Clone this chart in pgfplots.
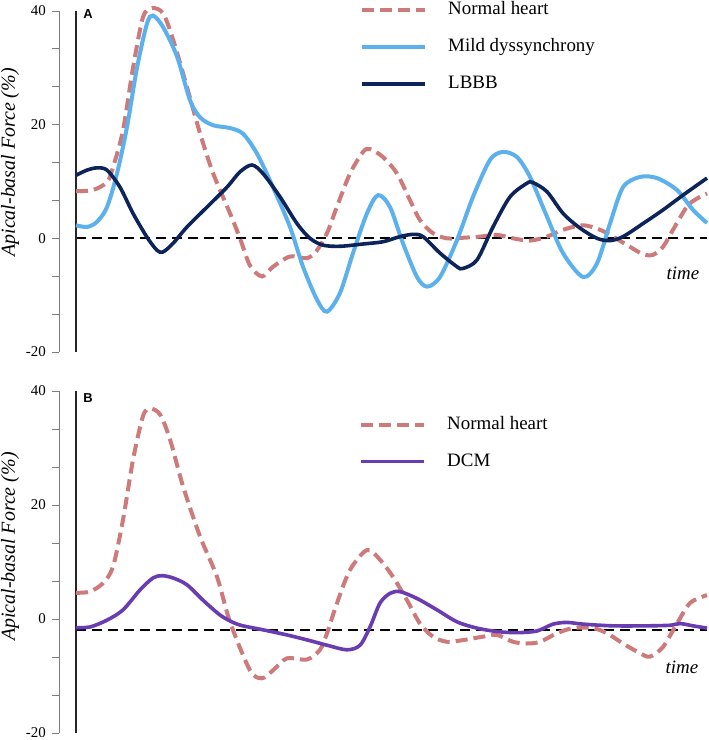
\documentclass[border=0pt]{standalone}
\usepackage{pgfplots}
\pgfplotsset{compat=1.18}
\usepackage{fontspec}
\setmainfont{Liberation Serif}
\newfontfamily\sansfont{Liberation Sans}

\definecolor{normalc}{RGB}{204,122,122}
\definecolor{mildc}{RGB}{92,177,236}
\definecolor{lbbbc}{RGB}{12,36,90}
\definecolor{dcmc}{RGB}{105,60,178}
\definecolor{axgray}{RGB}{125,125,125}

\pgfplotsset{
  panel/.style={
    scale only axis, width=648bp,
    xmin=59, xmax=707, ymin=-20, ymax=40,
    axis line style={draw=none},
    xtick=\empty, ytick pos=left,
    ytick={-20,0,20,40}, minor y tick num=2,
    tick align=outside, major tick length=7bp, minor tick length=7bp,
    tick style={draw=axgray, line width=0.8bp},
    yticklabel style={font=\fontsize{15}{18}\selectfont, text=black, anchor=east, inner sep=0pt, xshift=-6bp},
    /pgf/number format/assume math mode=true,
    clip=false,
    legend cell align=left,
    legend style={draw=none, fill=none, font=\fontsize{19}{22}\selectfont,
      inner sep=0pt, row sep=18bp, column sep=21bp,
      nodes={text height=14bp, text depth=5bp, inner sep=0pt}},
    every axis y label/.style={rotate=90, anchor=center,
      font=\fontsize{20}{24}\selectfont\itshape},
    ylabel={Apical-basal Force (\%)},
  },
  nh/.style={normalc, line width=4bp, dash pattern=on 12bp off 6bp},
  zl/.style={black, line width=2bp, dash pattern=on 10bp off 6bp},
}

\begin{document}
\begin{tikzpicture}
\path[use as bounding box] (0,0) rectangle (709bp,740bp);

% ---------------- Panel A ----------------
\begin{axis}[panel, at={(59bp,388bp)}, anchor=south west, height=341bp,
  every axis y label/.append style={at={(axis description cs:-0.0756,0.556)}},
  legend style={at={(axis description cs:0.4645,1.032)}, anchor=north west},
  legend image code/.code={\draw[#1] (0bp,0bp) -- (63bp,0bp);}]
\draw[axgray, line width=0.8bp] (axis cs:59,-20) -- (axis cs:59,40);
\addplot[zl, forget plot] coordinates {(76,0) (707,0)};
\draw[black!85, line width=1.8bp] (axis cs:76,-20) -- (axis cs:76,40);
\addplot[nh, smooth] coordinates {
(76,8.3)(93,8.5)(107,9.9)(113,12.5)(123,19)(133,30)(143,38.9)(152,40.5)(163,39.6)(173,35)(187,26.6)(200,18.5)(213,11.5)(230,4.4)(240,0)(250,-4.8)(262,-6.7)(273,-5.0)(290,-3.2)(307,-3.5)(317,-2.1)(327,0.9)(337,5.6)(350,11.4)(363,15.2)(370,15.7)(383,14.3)(397,11.4)(410,6.7)(420,3.2)(433,0.9)(447,0)(463,0.1)(480,0.3)(497,0.6)(513,0)(530,-0.4)(547,0.3)(563,1.5)(583,2.3)(600,1.5)(613,0.3)(630,-1.5)(643,-2.8)(653,-2.9)(663,-1.5)(673,1.5)(687,5.6)(697,7.0)(707,7.9)};
\addlegendentry{Normal heart}
\addplot[mildc, line width=4bp, smooth] coordinates {
(76,2.3)(87,2.0)(97,2.9)(107,5.5)(117,11.4)(127,19.6)(137,30)(147,37.8)(153,39.2)(163,37.2)(177,32)(190,24.3)(200,21.3)(213,19.9)(230,19.4)(243,18.4)(257,14.9)(273,9)(290,2)(303,-5)(317,-10.8)(327,-12.9)(340,-9.6)(353,-2.6)(367,4.4)(378,7.6)(390,5.5)(403,-0.9)(417,-6.8)(427,-8.5)(440,-6.8)(457,-0.3)(473,7.3)(490,13.8)(503,15.2)(517,14.3)(530,10.8)(547,3.8)(563,-2.6)(583,-6.8)(597,-4.4)(610,2.6)(623,9)(640,10.8)(657,10.6)(677,8.5)(693,5)(707,2.7)};
\addlegendentry{Mild dyssynchrony}
\addplot[lbbbc, line width=3.6bp, smooth] coordinates {
(76,11.1)(87,12)(97,12.4)(107,12)(120,9)(133,4.4)(147,0.2)(157,-2.1)(163,-2.4)(173,-0.9)(187,2)(207,5.5)(227,9)(240,11.7)(252,12.9)(263,11.4)(280,7.3)(297,2.6)(310,0)(323,-1.2)(340,-1.4)(363,-1)(383,-0.6)(400,0.3)(413,0.7)(423,0.3)(440,-2.6)(457,-5)(463,-5.3)(477,-3.8)(493,2)(510,7.3)(527,9.7)(533,9.8)(547,8.2)(563,4.4)(580,1.8)(597,0)(610,-0.4)(623,0.3)(643,2.6)(663,5)(683,7.6)(707,10.6)};
\addlegendentry{LBBB}
\node[font=\fontsize{19}{22}\selectfont\itshape] at (axis cs:683,-6.1) {time};
\node[font=\fontsize{13}{15}\sansfont\bfseries] at (axis cs:88,39.4) {A};
\end{axis}

% ---------------- Panel B ----------------
\begin{axis}[panel, at={(59bp,7bp)}, anchor=south west, height=342bp,
  every axis y label/.append style={at={(axis description cs:-0.0756,0.545)}},
  legend style={at={(axis description cs:0.463,0.930)}, anchor=north west},
  legend image code/.code={\draw[#1] (0bp,0bp) -- (63bp,0bp);}]
\draw[axgray, line width=0.8bp] (axis cs:59,-20) -- (axis cs:59,40);
\addplot[zl, forget plot] coordinates {(76,-1.9) (707,-1.9)};
\draw[black!85, line width=1.8bp] (axis cs:76,-20) -- (axis cs:76,40);
\addplot[nh, smooth] coordinates {
(76,4.6)(90,4.8)(103,6.3)(113,9.2)(123,17.4)(133,27.9)(143,35.6)(150,36.9)(160,35.9)(170,31.5)(183,23.3)(200,14.5)(217,7.4)(230,-0.5)(250,-9.0)(262,-10.4)(273,-9.0)(287,-6.9)(307,-7.1)(320,-5.4)(327,-2.5)(337,2.8)(350,8.6)(367,12.1)(380,10.4)(393,7.4)(407,3.3)(420,-0.8)(433,-3.1)(447,-4.0)(463,-3.7)(483,-3.1)(497,-2.8)(513,-4.0)(527,-4.3)(540,-4.0)(557,-2.5)(573,-1.6)(593,-1.6)(607,-2.5)(623,-4.3)(640,-6.0)(650,-6.6)(663,-4.9)(677,-0.8)(690,2.8)(707,4.2)};
\addlegendentry{Normal heart}
\addplot[dcmc, line width=3.6bp, smooth] coordinates {
(76,-1.5)(90,-1.4)(107,-0.2)(123,1.6)(140,5.1)(153,7.2)(162,7.6)(173,7.2)(187,6.0)(203,3.3)(220,0.7)(233,-0.6)(243,-1.2)(263,-1.9)(287,-2.8)(310,-3.8)(327,-4.6)(347,-5.4)(360,-4.6)(370,-1.4)(380,2.8)(390,4.5)(400,4.8)(417,3.6)(437,1.6)(457,-0.5)(477,-1.6)(497,-2.2)(517,-2.4)(537,-2.1)(553,-0.9)(567,-0.6)(583,-0.9)(613,-1.2)(647,-1.2)(670,-1.1)(680,-0.8)(693,-1.2)(707,-1.6)};
\addlegendentry{DCM}
\node[font=\fontsize{19}{22}\selectfont\itshape] at (axis cs:682,-8.4) {time};
\node[font=\fontsize{13}{15}\sansfont\bfseries] at (axis cs:88,38.7) {B};
\end{axis}
\end{tikzpicture}
\end{document}
